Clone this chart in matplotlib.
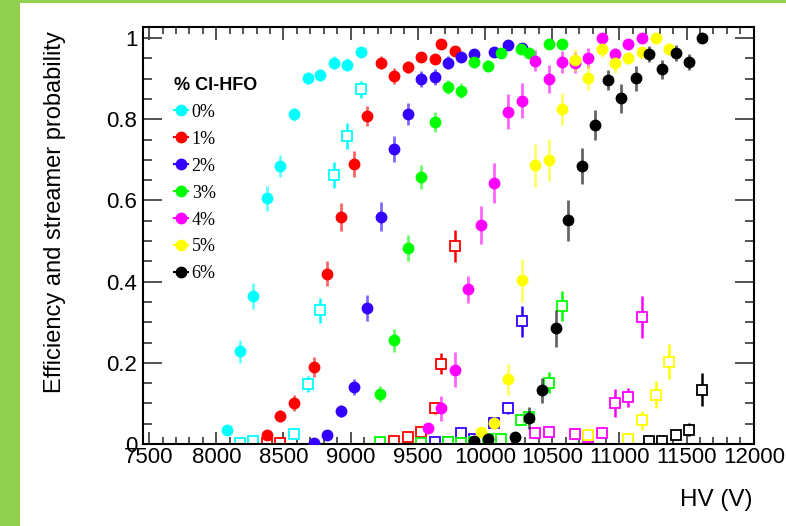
import matplotlib
matplotlib.use('agg')
import matplotlib.pyplot as plt
from matplotlib.lines import Line2D
from matplotlib.patches import Rectangle
from matplotlib.ticker import MultipleLocator

# efficiency (filled circles) and streamer probability (open squares) vs HV
labels = ['0%', '1%', '2%', '3%', '4%', '5%', '6%']
colors = ['#00ffff', '#ff0000', '#3300ff', '#00ff00', '#ff00ff', '#ffff00', '#000000']

hv0 = [8080, 8175, 8275, 8375, 8475, 8580, 8680, 8775, 8875, 8975, 9075]
eff0 = [0.035, 0.228, 0.364, 0.605, 0.685, 0.812, 0.901, 0.909, 0.940, 0.935, 0.965]
err0 = [0.006, 0.028, 0.032, 0.030, 0.028, 0.017, 0.015, 0.015, 0.015, 0.015, 0.010]
hvs0 = [8175, 8275, 8580, 8680, 8775, 8875, 8975, 9075]
str0 = [0.003, 0.008, 0.025, 0.148, 0.329, 0.663, 0.759, 0.874]
serr0 = [0.003, 0.004, 0.006, 0.020, 0.030, 0.031, 0.032, 0.021]

hv1 = [8375, 8475, 8575, 8725, 8825, 8925, 9025, 9125, 9225, 9325, 9425, 9525, 9625, 9675, 9775]
eff1 = [0.023, 0.069, 0.101, 0.189, 0.420, 0.560, 0.690, 0.808, 0.940, 0.907, 0.928, 0.953, 0.948, 0.986, 0.969]
err1 = [0.008, 0.015, 0.020, 0.025, 0.031, 0.034, 0.031, 0.025, 0.015, 0.020, 0.015, 0.012, 0.012, 0.010, 0.012]
hvs1 = [8375, 8475, 9325, 9425, 9525, 9625, 9675, 9775]
str1 = [0.002, 0.002, 0.008, 0.016, 0.029, 0.088, 0.198, 0.488]
serr1 = [0.002, 0.002, 0.004, 0.006, 0.008, 0.015, 0.026, 0.040]

hv2 = [8725, 8825, 8925, 9025, 9125, 9225, 9325, 9425, 9525, 9625, 9725, 9820, 9920, 10070, 10170, 10275]
eff2 = [0.002, 0.021, 0.082, 0.140, 0.335, 0.560, 0.726, 0.813, 0.900, 0.904, 0.940, 0.953, 0.960, 0.965, 0.982, 0.975]
err2 = [0.003, 0.006, 0.015, 0.020, 0.032, 0.036, 0.032, 0.028, 0.020, 0.020, 0.015, 0.012, 0.012, 0.010, 0.010, 0.010]
hvs2 = [9625, 9725, 9820, 9920, 10070, 10170, 10275]
str2 = [0.004, 0.005, 0.026, 0.012, 0.052, 0.088, 0.302]
serr2 = [0.003, 0.003, 0.008, 0.006, 0.012, 0.015, 0.038]

hv3 = [9220, 9325, 9425, 9525, 9625, 9725, 9820, 9920, 10020, 10120, 10270, 10325, 10475, 10575]
eff3 = [0.123, 0.255, 0.483, 0.658, 0.794, 0.880, 0.871, 0.942, 0.932, 0.964, 0.973, 0.964, 0.986, 0.986]
err3 = [0.019, 0.028, 0.031, 0.029, 0.025, 0.018, 0.018, 0.015, 0.015, 0.012, 0.012, 0.012, 0.010, 0.010]
hvs3 = [9220, 9525, 9725, 9820, 9920, 10020, 10120, 10270, 10325, 10475, 10575]
str3 = [0.006, 0.003, 0.006, 0.002, 0.006, 0.011, 0.011, 0.059, 0.066, 0.151, 0.340]
serr3 = [0.003, 0.003, 0.003, 0.003, 0.004, 0.005, 0.005, 0.012, 0.012, 0.026, 0.038]

hv4 = [9575, 9675, 9775, 9870, 9970, 10070, 10170, 10275, 10375, 10475, 10575, 10670, 10770, 10870, 10965, 11065, 11170]
eff4 = [0.039, 0.088, 0.183, 0.381, 0.539, 0.644, 0.819, 0.846, 0.945, 0.899, 0.942, 0.940, 0.952, 1.000, 0.961, 0.986, 1.000]
err4 = [0.012, 0.031, 0.043, 0.034, 0.047, 0.049, 0.044, 0.043, 0.026, 0.034, 0.027, 0.025, 0.025, 0.005, 0.015, 0.010, 0.005]
hvs4 = [10375, 10475, 10670, 10770, 10870, 10965, 11065, 11170]
str4 = [0.026, 0.029, 0.025, 0.016, 0.026, 0.101, 0.115, 0.313]
serr4 = [0.010, 0.010, 0.010, 0.008, 0.010, 0.034, 0.024, 0.051]

hv5 = [9970, 10070, 10170, 10275, 10375, 10475, 10575, 10670, 10770, 10870, 10965, 11065, 11170, 11270, 11370]
eff5 = [0.029, 0.052, 0.159, 0.403, 0.687, 0.700, 0.825, 0.946, 0.903, 0.973, 0.940, 0.951, 0.965, 1.000, 0.973]
err5 = [0.010, 0.015, 0.039, 0.052, 0.053, 0.052, 0.040, 0.027, 0.030, 0.020, 0.025, 0.015, 0.015, 0.005, 0.015]
hvs5 = [10770, 11065, 11170, 11270, 11370]
str5 = [0.022, 0.011, 0.058, 0.121, 0.203]
serr5 = [0.010, 0.005, 0.024, 0.033, 0.044]

hv6 = [9920, 10020, 10220, 10325, 10425, 10525, 10620, 10720, 10815, 10915, 11015, 11120, 11220, 11320, 11420, 11515, 11615]
eff6 = [0.008, 0.011, 0.016, 0.064, 0.132, 0.285, 0.551, 0.685, 0.786, 0.897, 0.852, 0.901, 0.961, 0.923, 0.964, 0.942, 1.000]
err6 = [0.005, 0.006, 0.008, 0.026, 0.030, 0.046, 0.050, 0.044, 0.037, 0.025, 0.036, 0.030, 0.020, 0.024, 0.020, 0.020, 0.005]
hvs6 = [11220, 11320, 11420, 11515, 11615]
str6 = [0.008, 0.008, 0.022, 0.035, 0.134]
serr6 = [0.004, 0.004, 0.010, 0.016, 0.040]

eff_sets = [(hv0, eff0, err0), (hv1, eff1, err1), (hv2, eff2, err2), (hv3, eff3, err3),
            (hv4, eff4, err4), (hv5, eff5, err5), (hv6, eff6, err6)]
str_sets = [(hvs0, str0, serr0), (hvs1, str1, serr1), (hvs2, str2, serr2), (hvs3, str3, serr3),
            (hvs4, str4, serr4), (hvs5, str5, serr5), (hvs6, str6, serr6)]

sans = 'Liberation Sans'
serif = 'Liberation Serif'

fig = plt.figure(figsize=(7.86, 5.26), dpi=100)
# green slide frame
fig.add_artist(Rectangle((0, 0), 20 / 786, 1, transform=fig.transFigure, color='#92d050', lw=0))
fig.add_artist(Rectangle((0, 1 - 3 / 526), 1, 3 / 526, transform=fig.transFigure, color='#92d050', lw=0))

ax = fig.add_axes([0.182, 0.156, 0.777, 0.793])

for (x, y, e), c in zip(str_sets, colors):
    ax.errorbar(x, y, yerr=e, fmt='s', ms=7.5, mfc='white', mec=c, mew=1.3,
                ecolor=c, elinewidth=1.8, capsize=0, zorder=2)

for (x, y, e), c in zip(eff_sets, colors):
    ec = matplotlib.colors.to_rgba(c, 0.6)
    ax.errorbar(x, y, yerr=e, fmt='o', ms=7.5, color=c, mec=c,
                ecolor=ec, elinewidth=2, capsize=0, zorder=3)

ax.set_xlim(7455, 12000)
ax.set_ylim(0, 1.028)
ax.xaxis.set_major_locator(MultipleLocator(500))
ax.xaxis.set_minor_locator(MultipleLocator(100))
ax.yaxis.set_major_locator(MultipleLocator(0.2))
ax.yaxis.set_minor_locator(MultipleLocator(0.05))
ax.set_yticks([0, 0.2, 0.4, 0.6, 0.8, 1.0])
ax.set_yticklabels(['0', '0.2', '0.4', '0.6', '0.8', '1'])

ax.tick_params(which='both', direction='in', top=True, right=True, color='#444444', width=1.3)
ax.xaxis.set_tick_params(which='major', length=9, pad=2)
ax.xaxis.set_tick_params(which='minor', length=4.8)
ax.yaxis.set_tick_params(which='major', length=13.5, pad=4)
ax.yaxis.set_tick_params(which='minor', length=6.5)
for lab in ax.get_xticklabels() + ax.get_yticklabels():
    lab.set_fontfamily(sans)
    lab.set_fontsize(16)
for s in ax.spines.values():
    s.set_linewidth(1.5)

ax.set_ylabel('Efficiency and streamer probability', fontfamily=sans, fontsize=17)
ax.yaxis.set_label_coords(-0.126, 0.555)
ax.set_xlabel('HV (V)', fontfamily=sans, fontsize=17.5)
ax.xaxis.set_label_coords(0.938, -0.108)

handles = [Line2D([], [], color=c, marker='o', ms=7.5, lw=1.5) for c in colors]
leg = ax.legend(handles, labels, title='% Cl-HFO', loc='upper left',
                bbox_to_anchor=(0.05, 0.880), frameon=False,
                prop={'family': serif, 'size': 13},
                title_fontproperties={'family': sans, 'weight': 'bold', 'size': 13},
                handlelength=0.8, handletextpad=0.2, labelspacing=0.55,
                borderpad=0, borderaxespad=0)
leg._legend_box.align = 'left'

plt.savefig('out.png', dpi=100)
plt.close()
